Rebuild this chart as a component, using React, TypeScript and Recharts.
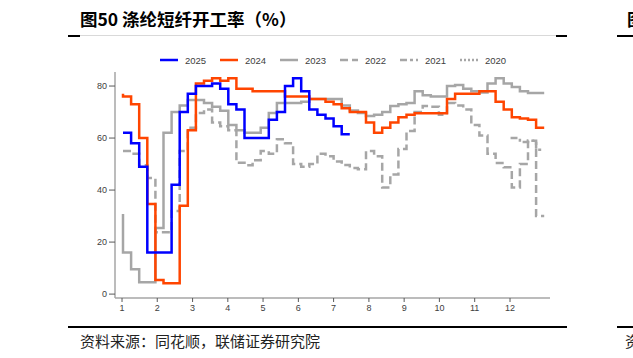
import { LineChart, Line, XAxis, YAxis } from "recharts"

// week slots along the x axis (0 = first week of January)
const weeks = Array.from({ length: 53 }, (_, i) => i)

const monthTicks = [-0.12, 4.23, 8.59, 12.94, 17.29, 21.65, 26.0, 30.36, 34.71, 39.06, 43.42, 47.78]
const monthLabels = ["1", "2", "3", "4", "5", "6", "7", "8", "9", "10", "11", "12"]

const yTicks = [0, 20, 40, 60, 80]

const rate2025 = [62, 62, 58, 49, 16, 16, 16, 42, 70, 77, 80, 80, 81, 79, 73, 71, 60, 60, 60, 67, 70, 80, 83, 78, 71, 69, 67.5, 64.5, 61.5]

const rate2024 = [77, 76, 73, 60, 34.6, 5.4, 4.2, 4.2, 34, 63, 81, 82, 83, 82, 83, 79, 79, 78, 78, 78, 78, 76, 76, 76, 75, 75, 74, 73, 71.5, 70, 70, 66, 62, 64, 66, 68, 69, 69.5, 69.5, 69.5, 69.5, 75, 77, 77, 77, 78, 78, 74, 71, 68, 67.5, 67, 64]

const rate2023 = [30.8, 16, 9.6, 4.6, 4.6, 25.4, 62, 70, 72.5, 74.6, 74.6, 73.5, 72, 70.5, 65, 63, 62, 62, 64, 69.6, 73.5, 73.5, 73.5, 74, 75, 75, 75, 75, 72.5, 70.6, 69.6, 68.5, 69, 70, 72.3, 73, 73.5, 78, 76.5, 76, 76, 80, 80.4, 79, 78, 77.5, 81, 83, 81, 79.6, 78, 77.3, 77.3]

const rate2022 = [55, 55, 54, 49.5, 44.6, 23.8, 23.8, 32, 55, 64, 69.6, 71, 66, 64.5, 63, 50.5, 49.5, 51.5, 55, 54, 59.5, 58, 50, 49, 50, 54, 53, 51, 49.6, 48.5, 48, 55, 53, 41, 46, 55.8, 62.7, 70, 72.3, 72, 69, 73.5, 72.5, 71, 65, 61, 54, 50.4, 48.8, 41, 50, 59, 30]

// 2021 only shows at the very end of the year, 2020 not visible
const rate2021 = [null, null, null, null, null, null, null, null, null, null, null, null, null, null, null, null, null, null, null, null, null, null, null, null, null, null, null, null, null, null, null, null, null, null, null, null, null, null, null, null, null, null, null, null, null, null, null, null, 60.5, 60, 58.5, 59, 55.5]

const rate2020: (number | null)[] = []

const series = [
  { key: "y2020", name: "2020", values: rate2020, color: "#A6A6A6", dash: "2 2" },
  { key: "y2021", name: "2021", values: rate2021, color: "#A6A6A6", dash: "7 3 3 3" },
  { key: "y2022", name: "2022", values: rate2022, color: "#A6A6A6", dash: "8 4" },
  { key: "y2023", name: "2023", values: rate2023, color: "#A6A6A6", dash: undefined },
  { key: "y2024", name: "2024", values: rate2024, color: "#FF4500", dash: undefined },
  { key: "y2025", name: "2025", values: rate2025, color: "#0000FF", dash: undefined },
]

const data = weeks.map(i => {
  const row: any = { i }
  series.forEach(s => {
    const v = s.values[i]
    row[s.key] = v === undefined ? null : v
  })
  return row
})

const legendOrder = [...series].reverse()

function ChartLegend() {
  return (
    <div style={{ position: "absolute", left: 160, top: 53, display: "flex", height: 14 }}>
      {legendOrder.map(s => (
        <div key={s.key} style={{ width: 60, display: "flex", alignItems: "center" }}>
          <svg width={18} height={14}>
            <line x1={0} y1={7} x2={18} y2={7} stroke={s.color} strokeWidth={2.5} strokeDasharray={s.dash} />
          </svg>
          <span style={{ marginLeft: 7, fontSize: 9.5, color: "#404040" }}>{s.name}</span>
        </div>
      ))}
    </div>
  )
}

export default function App() {
  return (
    <div
      style={{
        position: "absolute",
        left: 0,
        top: 0,
        width: 633,
        height: 358,
        background: "#fff",
        overflow: "hidden",
        fontFamily: "'Liberation Sans', Arial, sans-serif",
      }}
    >
      <div style={{ position: "absolute", left: 80, top: 7, fontFamily: "'Noto Sans CJK SC'", fontWeight: 700, fontSize: 17.5, lineHeight: "24px", color: "#000", whiteSpace: "nowrap" }}>
        图50 涤纶短纤开工率（%）
      </div>
      <div style={{ position: "absolute", left: 627, top: 7, fontFamily: "'Noto Sans CJK SC'", fontWeight: 700, fontSize: 17.5, lineHeight: "24px", color: "#000" }}>图</div>

      <div style={{ position: "absolute", left: 68, top: 35, width: 499, height: 1, background: "#D9D9D9" }} />
      <div style={{ position: "absolute", left: 68, top: 35, width: 12, height: 1.5, background: "#000" }} />
      <div style={{ position: "absolute", left: 556, top: 35, width: 11, height: 1.5, background: "#000" }} />
      <div style={{ position: "absolute", left: 617, top: 35, width: 16, height: 1.5, background: "#000" }} />

      <ChartLegend />

      <div style={{ position: "absolute", left: 0, top: 0 }}>
        <LineChart width={633} height={358} data={data} margin={{ top: 72, right: 83, bottom: 30, left: 75 }}>
          <XAxis
            dataKey="i"
            type="number"
            domain={[-0.988, 52.716]}
            ticks={monthTicks}
            interval={0}
            tickFormatter={v => monthLabels[monthTicks.indexOf(v)]}
            tick={{ fontSize: 9, fill: "#404040" }}
            tickSize={4}
            tickMargin={3}
            height={30}
            axisLine={{ stroke: "#A6A6A6", strokeWidth: 1.5 }}
            tickLine={{ stroke: "#595959" }}
          />
          <YAxis
            type="number"
            domain={[-1.5, 85.4]}
            ticks={yTicks}
            interval={0}
            tick={{ fontSize: 9, fill: "#404040" }}
            tickSize={6}
            tickMargin={2}
            width={40}
            axisLine={{ stroke: "#A6A6A6", strokeWidth: 1.5 }}
            tickLine={{ stroke: "#595959" }}
          />
          {series.map(s => (
            <Line
              key={s.key}
              type="stepBefore"
              dataKey={s.key}
              stroke={s.color}
              strokeWidth={2.5}
              strokeDasharray={s.dash}
              dot={false}
              activeDot={false}
              isAnimationActive={false}
            />
          ))}
        </LineChart>
      </div>

      <div style={{ position: "absolute", left: 68, top: 326, width: 499, height: 1.5, background: "#000" }} />
      <div style={{ position: "absolute", left: 617, top: 326, width: 16, height: 1.5, background: "#000" }} />
      <div style={{ position: "absolute", left: 80, top: 330, fontFamily: "'Noto Sans CJK SC'", fontSize: 15, lineHeight: "21px", color: "#222", whiteSpace: "nowrap" }}>
        资料来源：同花顺，联储证券研究院
      </div>
      <div style={{ position: "absolute", left: 625, top: 330, fontFamily: "'Noto Sans CJK SC'", fontSize: 15, lineHeight: "21px", color: "#222" }}>资</div>
    </div>
  )
}
